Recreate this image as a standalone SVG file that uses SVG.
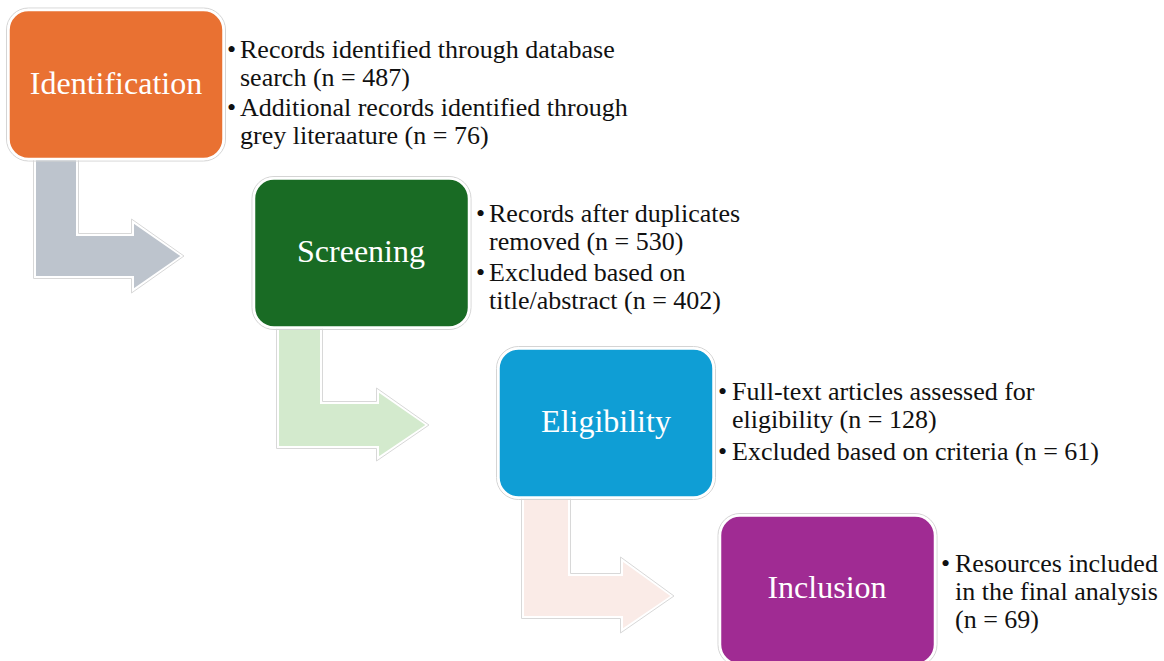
<svg xmlns="http://www.w3.org/2000/svg" width="1164" height="661" viewBox="0 0 1164 661">
<style>
.box{stroke:#ffffff;stroke-width:2.5}
.halo{fill:none;stroke:#d4d4d4;stroke-width:1}
.lbl{font-family:"Liberation Serif","Times New Roman",serif;font-size:32px;fill:#ffffff;text-anchor:middle}
.txt{font-family:"Liberation Serif","Times New Roman",serif;font-size:26px;fill:#111111}
.arr{stroke:#ffffff;stroke-width:2}
.arrh{fill:none;stroke:#d8d8d8;stroke-width:1}
</style>
<rect width="1164" height="661" fill="#ffffff"/>
<g id="connectors">
  <polygon class="arr" fill="#BDC4CD" points="35,158 77,158 77,235 133,235 133,222 182,256 133,290 133,277 35,277"/>
  <polygon class="arrh" points="33.5,158 78.5,158 78.5,233.5 131.5,233.5 131.5,219 184,256 131.5,293 131.5,278.5 33.5,278.5"/>
  <polygon class="arr" fill="#D3EACD" points="278,328 321,328 321,403 378,403 378,391 427,425 378,458 378,447 278,447"/>
  <polygon class="arrh" points="276.5,328 322.5,328 322.5,401.5 376.5,401.5 376.5,388 429,425 376.5,461 376.5,448.5 276.5,448.5"/>
  <polygon class="arr" fill="#FAEBE7" points="523,498 569,498 569,575 622,575 622,560 672,596 622,630 622,617 523,617"/>
  <polygon class="arrh" points="521.5,498 570.5,498 570.5,573.5 620.5,573.5 620.5,557 674,596 620.5,633 620.5,618.5 521.5,618.5"/>
</g>
<g id="identification">
  <rect class="halo" x="6.5" y="8" width="219" height="153" rx="22"/>
  <rect class="box" fill="#E97132" x="8.5" y="10" width="215" height="149" rx="20"/>
  <text class="lbl" x="116" y="94">Identification</text>
  <text class="txt" x="227" y="58">•</text>
  <text class="txt" x="240" y="58">Records identified through database</text>
  <text class="txt" x="240" y="86">search (n = 487)</text>
  <text class="txt" x="227" y="116">•</text>
  <text class="txt" x="240" y="116">Additional records identified through</text>
  <text class="txt" x="240" y="144">grey literaature (n = 76)</text>
</g>
<g id="screening">
  <rect class="halo" x="252" y="176.5" width="219" height="153" rx="22"/>
  <rect class="box" fill="#196B24" x="254" y="178.5" width="215" height="149" rx="20"/>
  <text class="lbl" x="361" y="262">Screening</text>
  <text class="txt" x="476" y="222">•</text>
  <text class="txt" x="489" y="222">Records after duplicates</text>
  <text class="txt" x="489" y="250">removed (n = 530)</text>
  <text class="txt" x="476" y="281">•</text>
  <text class="txt" x="489" y="281">Excluded based on</text>
  <text class="txt" x="489" y="309">title/abstract (n = 402)</text>
</g>
<g id="eligibility">
  <rect class="halo" x="496.5" y="346.5" width="219" height="153" rx="22"/>
  <rect class="box" fill="#0F9ED5" x="498.5" y="348.5" width="215" height="149" rx="20"/>
  <text class="lbl" x="606" y="432">Eligibility</text>
  <text class="txt" x="718" y="400">•</text>
  <text class="txt" x="732" y="400">Full-text articles assessed for</text>
  <text class="txt" x="732" y="428">eligibility (n = 128)</text>
  <text class="txt" x="718" y="460">•</text>
  <text class="txt" x="732" y="460">Excluded based on criteria (n = 61)</text>
</g>
<g id="inclusion">
  <rect class="halo" x="718" y="513.5" width="219" height="153" rx="22"/>
  <rect class="box" fill="#A02B93" x="720" y="515.5" width="215" height="149" rx="20"/>
  <text class="lbl" x="827" y="598">Inclusion</text>
  <text class="txt" x="941" y="572">•</text>
  <text class="txt" x="955" y="572">Resources included</text>
  <text class="txt" x="955" y="600">in the final analysis</text>
  <text class="txt" x="955" y="628">(n = 69)</text>
</g>
</svg>
